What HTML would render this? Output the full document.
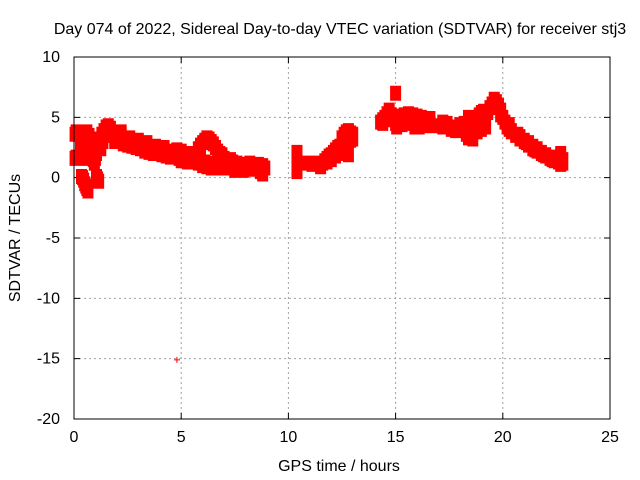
<!DOCTYPE html>
<html><head><meta charset="utf-8"><style>
body{margin:0;background:#fff;}
svg{display:block;font-family:"Liberation Sans",sans-serif;}
</style></head><body>
<svg id="chart" width="640" height="480" viewBox="0 0 640 480">
<rect width="640" height="480" fill="#fff"/>
<text x="340" y="34" font-size="16" text-anchor="middle">Day 074 of 2022, Sidereal Day-to-day VTEC variation (SDTVAR) for receiver stj3</text>
<g id="grid"></g>
<g id="ticks"></g>
<g id="marks"></g>
<rect x="74" y="57" width="536" height="362" fill="none" stroke="#000" stroke-width="1"/>
<text x="339" y="471" font-size="16" text-anchor="middle">GPS time / hours</text>
<text x="20" y="238" font-size="16" text-anchor="middle" transform="rotate(-90 20 238)">SDTVAR / TECUs</text>
</svg>
<script>
const xTicks=[0,5,10,15,20,25];
const yTicks=[10,5,0,-5,-10,-15,-20];
const hours=[0.05,0.1,0.2,0.3,0.4,0.5,0.6,0.7,0.8,0.05,0.1,0.2,0.3,0.4,0.5,0.6,0.3,0.45,0.55,0.7,0.8,0.9,0.6,0.5,0.45,0.4,0.5,0.6,0.7,0.35,0.4,0.45,0.5,0.55,0.6,0.65,1.05,1.1,1.15,1.0,1.1,1.2,1.3,1.4,1.5,1.6,1.7,1.25,1.35,1.45,1.55,0.9,0.95,1.0,1.05,
1.8,1.9,2.0,2.1,2.2,2.4,2.6,2.8,3.0,3.2,3.4,3.6,3.8,4.0,4.2,4.4,4.6,1.9,2.1,2.3,2.5,2.7,2.9,3.1,3.3,3.5,3.7,3.9,4.1,4.3,4.5,2.2,2.6,3.0,3.4,3.8,4.2,
4.7,4.8,4.9,5.0,5.1,5.2,5.3,5.4,5.5,4.8,5.0,5.2,5.4,5.6,
5.7,5.8,5.9,6.0,6.1,6.2,6.3,6.4,6.5,6.6,6.7,6.8,6.9,7.0,7.1,7.2,7.3,7.4,5.8,6.0,6.2,6.4,6.6,6.8,7.0,7.2,7.4,5.9,6.1,6.3,6.5,6.7,6.9,7.1,7.3,
7.5,7.7,7.9,8.1,8.3,8.5,8.7,8.9,7.6,7.8,8.0,8.2,8.4,8.6,8.8,7.5,7.9,8.3,8.7,8.8,
10.4,10.4,10.4,10.4,10.9,11.1,11.3,
11.5,11.6,11.7,11.8,11.9,12.0,12.1,12.2,12.3,12.4,12.5,12.6,11.8,12.0,12.2,12.4,12.6,12.5,12.6,12.7,12.8,12.9,13.0,12.6,12.7,12.8,12.9,13.0,12.4,12.6,12.8,
14.3,14.4,14.5,14.6,14.7,14.8,14.9,15.0,14.4,14.6,14.8,15.0,15.0,15.2,15.4,15.6,15.8,16.0,16.2,16.4,16.6,15.3,15.5,15.7,15.9,16.1,16.3,15.9,16.1,16.3,16.5,15.05,15.05,
17.0,17.2,17.4,17.6,17.8,18.0,17.2,17.4,17.6,17.8,18.0,18.2,18.3,18.4,18.5,18.6,18.7,18.8,18.9,19.0,19.1,19.2,19.3,19.4,19.5,19.6,19.7,19.8,19.9,18.3,18.4,18.6,18.8,19.0,19.2,18.4,18.2,18.3,18.4,18.5,19.5,19.6,19.7,19.8,19.9,
20.0,20.1,20.2,20.3,20.4,20.6,20.8,21.0,21.2,21.4,21.6,21.8,22.0,22.2,22.4,22.6,22.8,20.2,20.4,20.6,20.8,21.0,21.2,21.4,21.6,21.8,22.0,22.2,22.4,22.6,22.8,20.3,20.7,21.1,21.5,21.9,22.3,22.7,22.7,22.7,
4.8];
const values=[3.6,3.8,3.7,3.6,3.7,3.6,3.8,3.5,3.2,1.6,1.7,1.6,1.6,1.8,1.7,1.6,2.5,2.8,3.0,3.3,2.6,2.1,2.2,2.0,1.8,1.7,2.4,2.6,2.8,0.1,0.0,-0.2,-0.5,-0.7,-0.9,-1.1,0.1,-0.1,-0.3,2.3,2.8,3.2,3.6,3.9,4.2,4.3,4.1,2.4,3.0,3.5,3.8,1.5,1.2,1.6,2.0,
3.6,3.4,3.5,3.3,3.2,3.0,2.9,2.8,2.8,2.7,2.6,2.5,2.4,2.3,2.3,2.2,2.1,3.0,3.0,2.8,2.7,2.6,2.5,2.4,2.2,2.1,2.0,2.0,1.9,1.8,1.7,3.8,3.3,3.1,2.9,2.6,2.5,
2.0,1.8,1.6,1.4,1.9,1.7,1.3,1.5,1.6,2.3,2.2,2.0,1.9,1.8,
2.0,2.4,2.7,2.9,3.1,3.3,3.2,3.0,2.8,2.5,2.2,2.0,1.9,1.6,1.5,1.4,1.5,1.3,1.2,1.0,0.9,0.8,0.9,0.8,0.8,0.9,0.8,1.5,1.3,1.2,1.1,1.6,1.4,1.2,1.1,
1.0,0.9,0.9,0.8,0.9,0.8,0.7,0.8,1.2,1.1,1.0,1.2,1.0,1.1,1.0,0.6,0.6,0.7,0.5,0.3,
2.1,1.1,0.5,1.3,1.2,1.1,1.2,
0.9,1.2,1.4,1.6,1.8,1.9,2.1,2.3,2.5,2.6,2.8,3.0,1.3,1.5,1.8,2.1,2.4,3.3,3.6,3.8,3.9,3.7,3.6,2.2,2.5,2.8,3.1,3.2,2.0,2.0,1.9,
4.6,4.8,5.0,5.3,5.6,5.2,4.8,4.6,4.5,4.8,4.9,4.5,7.0,5.0,5.2,5.3,5.2,5.1,5.0,4.8,4.9,4.4,4.5,4.6,4.2,4.3,4.6,4.4,4.2,4.3,4.3,5.1,4.2,
4.3,4.2,4.4,4.2,4.0,4.4,4.6,4.5,4.0,3.9,4.3,4.5,4.5,4.7,4.3,4.4,4.8,5.0,5.2,5.4,5.5,5.3,5.4,5.8,6.1,6.4,6.3,6.0,5.6,3.6,3.3,3.2,3.8,4.0,4.2,5.0,4.1,4.0,4.3,4.6,5.8,6.5,6.2,5.8,5.2,
5.0,4.6,4.3,4.0,3.8,3.5,3.2,3.0,2.7,2.4,2.2,2.0,1.8,1.6,1.4,1.3,1.2,4.2,3.9,3.6,3.4,3.1,2.9,2.6,2.4,2.1,1.9,1.7,1.5,1.4,1.5,4.4,3.6,2.9,2.3,1.9,1.5,1.8,1.1,2.0,
-15.1];
const NS="http://www.w3.org/2000/svg";
const X0=74,X1=610,Y0=419,Y1=57;
function xs(h){return X0+(h-0)/(25-0)*(X1-X0);}
function ys(v){return Y0-(v-(-20))/(10-(-20))*(Y0-Y1);}
const grid=document.getElementById('grid'),ticks=document.getElementById('ticks'),marks=document.getElementById('marks');
xTicks.forEach(t=>{
  const x=xs(t);
  if(t>0&&t<25){const l=document.createElementNS(NS,'line');
  l.setAttribute('x1',x);l.setAttribute('x2',x);l.setAttribute('y1',Y1);l.setAttribute('y2',Y0);
  l.setAttribute('stroke','#a0a0a0');l.setAttribute('stroke-dasharray','2,3');
  
  
  grid.appendChild(l);}
  const tk=document.createElementNS(NS,'path');
  tk.setAttribute('d',`M${x},${Y0}v-6M${x},${Y1}v6`);tk.setAttribute('stroke','#000');
  
  
  ticks.appendChild(tk);
  const tx=document.createElementNS(NS,'text');
  tx.setAttribute('x',x);tx.setAttribute('y',Y0+23);tx.setAttribute('font-size','16');tx.setAttribute('text-anchor','middle');
  tx.textContent=t;
  
  
  ticks.appendChild(tx);
});
yTicks.forEach(t=>{
  const y=ys(t);
  if(t<10&&t>-20){const l=document.createElementNS(NS,'line');
  l.setAttribute('x1',X0);l.setAttribute('x2',X1);l.setAttribute('y1',y);l.setAttribute('y2',y);
  l.setAttribute('stroke','#a0a0a0');l.setAttribute('stroke-dasharray','2,3');
  
  
  grid.appendChild(l);}
  const tk=document.createElementNS(NS,'path');
  tk.setAttribute('d',`M${X0},${y}h6M${X1},${y}h-6`);tk.setAttribute('stroke','#000');
  
  
  ticks.appendChild(tk);
  const tx=document.createElementNS(NS,'text');
  tx.setAttribute('x',X0-14);tx.setAttribute('y',y+5);tx.setAttribute('font-size','16');tx.setAttribute('text-anchor','end');
  tx.textContent=t;
  
  
  ticks.appendChild(tx);
});
let d='';
for(let i=0;i<hours.length;i++){
  const x=xs(hours[i]),y=ys(values[i]);
  const big=i<hours.length-1;
  if(big){
    d+=`M${x-5},${y-7}h10v14h-10z`;
  } else {
    d+=`M${x-3},${y}h6M${x},${y-3}v6`;
  }
}
const p=document.createElementNS(NS,'path');
p.setAttribute('d',d);p.setAttribute('stroke','#ff0000');p.setAttribute('stroke-width','1');p.setAttribute('fill','#ff0000');


marks.appendChild(p);
</script>
</body></html>
